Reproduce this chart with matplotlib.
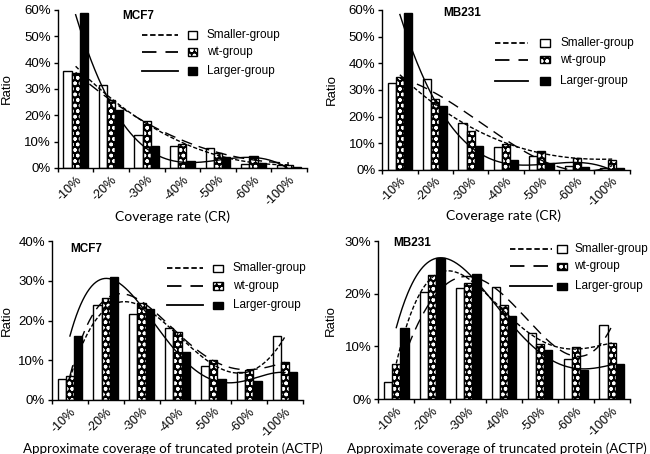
"""
Four-panel clustered bar chart: CR / ACTP ratio per group, MCF7 and MB231,
with polynomial trendlines (Excel style).
"""
import numpy as np
import matplotlib
matplotlib.use('Agg')
import matplotlib.pyplot as plt
from matplotlib.patches import Rectangle
from matplotlib.lines import Line2D
from matplotlib.ticker import PercentFormatter, MultipleLocator

plt.rcParams['font.family'] = ['Liberation Sans', 'DejaVu Sans']
plt.rcParams['hatch.linewidth'] = 1.0

categories = ['-10%', '-20%', '-30%', '-40%', '-50%', '-60%', '-100%']
series_names = ['Smaller-group', 'wt-group', 'Larger-group']

# coverage rate (CR)
mcf7_cr_smaller = [37.0, 31.5, 12.5, 8.5, 7.5, 1.5, 1.0]
mcf7_cr_wt = [36.0, 26.0, 18.0, 9.0, 5.5, 4.5, 1.3]
mcf7_cr_larger = [59.0, 22.0, 8.5, 2.5, 4.0, 2.0, 0.3]

mb231_cr_smaller = [32.5, 34.0, 17.5, 8.5, 5.0, 1.5, 0.5]
mb231_cr_wt = [35.0, 26.5, 14.5, 9.5, 7.0, 4.5, 3.8]
mb231_cr_larger = [59.0, 24.0, 9.0, 3.5, 2.5, 1.0, 0.5]

# approximate coverage of truncated protein (ACTP)
mcf7_actp_smaller = [5.2, 24.0, 21.6, 18.0, 8.5, 7.0, 16.0]
mcf7_actp_wt = [6.0, 25.6, 24.5, 17.0, 10.0, 7.5, 9.5]
mcf7_actp_larger = [16.0, 31.0, 23.0, 12.0, 5.3, 4.8, 7.0]

mb231_actp_smaller = [3.3, 20.3, 21.0, 21.2, 12.5, 7.7, 14.0]
mb231_actp_wt = [6.7, 23.5, 22.0, 17.8, 10.4, 9.8, 10.6]
mb231_actp_larger = [13.5, 26.7, 23.7, 15.8, 9.3, 5.5, 6.6]

SHORT = (0, (3, 1.5))
LONG = (0, (8, 5))
LEGEND_STYLES = [SHORT, LONG, '-']
BAR_W = 0.23


def draw_bar(ax, x, vals, kind):
    if kind == 0:
        ax.bar(x, vals, BAR_W, color='white', edgecolor='black', linewidth=1.0, zorder=2)
    elif kind == 1:
        ax.bar(x, vals, BAR_W, color='black', edgecolor='white', hatch='ooo', linewidth=0, zorder=2)
        ax.bar(x, vals, BAR_W, color='none', edgecolor='black', linewidth=1.0, zorder=2)
    else:
        ax.bar(x, vals, BAR_W, color='black', edgecolor='black', linewidth=1.0, zorder=2)


def draw_legend(ax, x0, x1, px0, px1, tx, ys, ph):
    for i, (name, y) in enumerate(zip(series_names, ys)):
        ax.add_line(Line2D([x0, x1], [y, y], transform=ax.transAxes, color='black',
                           lw=1.3, linestyle=LEGEND_STYLES[i], clip_on=False))
        if i == 1:
            ax.add_patch(Rectangle((px0, y - ph / 2), px1 - px0, ph, transform=ax.transAxes,
                                   facecolor='black', edgecolor='white', hatch='ooo',
                                   linewidth=0, clip_on=False))
        ax.add_patch(Rectangle((px0, y - ph / 2), px1 - px0, ph, transform=ax.transAxes,
                               facecolor='white' if i == 0 else ('none' if i == 1 else 'black'),
                               edgecolor='black', linewidth=1.0, clip_on=False))
        ax.text(tx, y, name, transform=ax.transAxes, fontsize=8.5, va='center', ha='left')


def panel(ax, data, ymax, title, title_xy, xlabel, xlab_xy, ylab_xy, leg,
          trend_styles, trend_deg, xlab_size=10):
    x = np.arange(len(categories))
    for i, vals in enumerate(data):
        draw_bar(ax, x + (i - 1) * BAR_W, vals, i)
    # polynomial trendlines (the MB231 originals have the dash styles swapped)
    xs = np.linspace(0, len(categories) - 1, 300)
    for i, vals in enumerate(data):
        coef = np.polyfit(x, vals, trend_deg[i])
        ax.plot(xs, np.polyval(coef, xs), color='black', lw=1.0,
                linestyle=trend_styles[i], zorder=3)

    ax.set_xlim(-0.5, len(categories) - 0.5)
    ax.set_ylim(0, ymax)
    ax.yaxis.set_major_locator(MultipleLocator(10))
    ax.yaxis.set_major_formatter(PercentFormatter(decimals=0))
    ax.set_xticks(x)
    ax.set_xticklabels(categories, rotation=45, ha='right', va='top',
                       rotation_mode='anchor', fontsize=9)
    ax.tick_params(axis='x', which='major', length=0, pad=4)
    ax.set_xticks(np.arange(len(categories) + 1) - 0.5, minor=True)
    ax.tick_params(axis='x', which='minor', length=3, width=1, direction='out')
    ax.tick_params(axis='y', length=3, width=1, labelsize=9.5, pad=2)
    for s in ['top', 'right']:
        ax.spines[s].set_visible(False)
    for s in ['left', 'bottom']:
        ax.spines[s].set_linewidth(1.0)

    ax.set_ylabel('Ratio', fontsize=9.5)
    ax.yaxis.set_label_coords(*ylab_xy)
    ax.set_xlabel(xlabel, fontsize=xlab_size, family=['Lato', 'DejaVu Sans'])
    ax.xaxis.set_label_coords(*xlab_xy)
    ax.text(title_xy[0], title_xy[1], title, transform=ax.transAxes, fontsize=8.5,
            fontweight='bold', ha='left', va='center')
    draw_legend(ax, *leg)


fig = plt.figure(figsize=(6.5, 4.54), dpi=100)

ax1 = fig.add_axes([0.089, 0.630, 0.383, 0.348])
panel(ax1, [mcf7_cr_smaller, mcf7_cr_wt, mcf7_cr_larger], 60, 'MCF7', (0.26, 0.96),
      'Coverage rate (CR)', (0.46, -0.27), (-0.18, 0.5),
      (0.337, 0.482, 0.522, 0.558, 0.598, [0.842, 0.734, 0.614], 0.045),
      [SHORT, LONG, '-'], [3, 3, 3])

ax2 = fig.add_axes([0.588, 0.626, 0.381, 0.352])
panel(ax2, [mb231_cr_smaller, mb231_cr_wt, mb231_cr_larger], 60, 'MB231', (0.246, 0.98),
      'Coverage rate (CR)', (0.49, -0.25), (-0.18, 0.5),
      (0.456, 0.589, 0.637, 0.677, 0.719, [0.794, 0.69, 0.556], 0.045),
      [LONG, SHORT, '-'], [3, 3, 3])

ax3 = fig.add_axes([0.080, 0.119, 0.386, 0.350])
panel(ax3, [mcf7_actp_smaller, mcf7_actp_wt, mcf7_actp_larger], 40, 'MCF7', (0.072, 0.95),
      'Approximate coverage of truncated protein (ACTP)', (0.48, -0.265), (-0.155, 0.5),
      (0.458, 0.602, 0.641, 0.681, 0.72, [0.83, 0.717, 0.597], 0.045),
      [SHORT, LONG, '-'], [4, 4, 4], xlab_size=9.6)

ax4 = fig.add_axes([0.582, 0.121, 0.387, 0.348])
panel(ax4, [mb231_actp_smaller, mb231_actp_wt, mb231_actp_larger], 30, 'MB231', (0.06, 0.99),
      'Approximate coverage of truncated protein (ACTP)', (0.47, -0.272), (-0.165, 0.5),
      (0.524, 0.69, 0.71, 0.75, 0.78, [0.95, 0.84, 0.715], 0.045),
      [LONG, SHORT, '-'], [4, 4, 4], xlab_size=9.6)

fig.savefig('out.png', dpi=100)
plt.close(fig)
